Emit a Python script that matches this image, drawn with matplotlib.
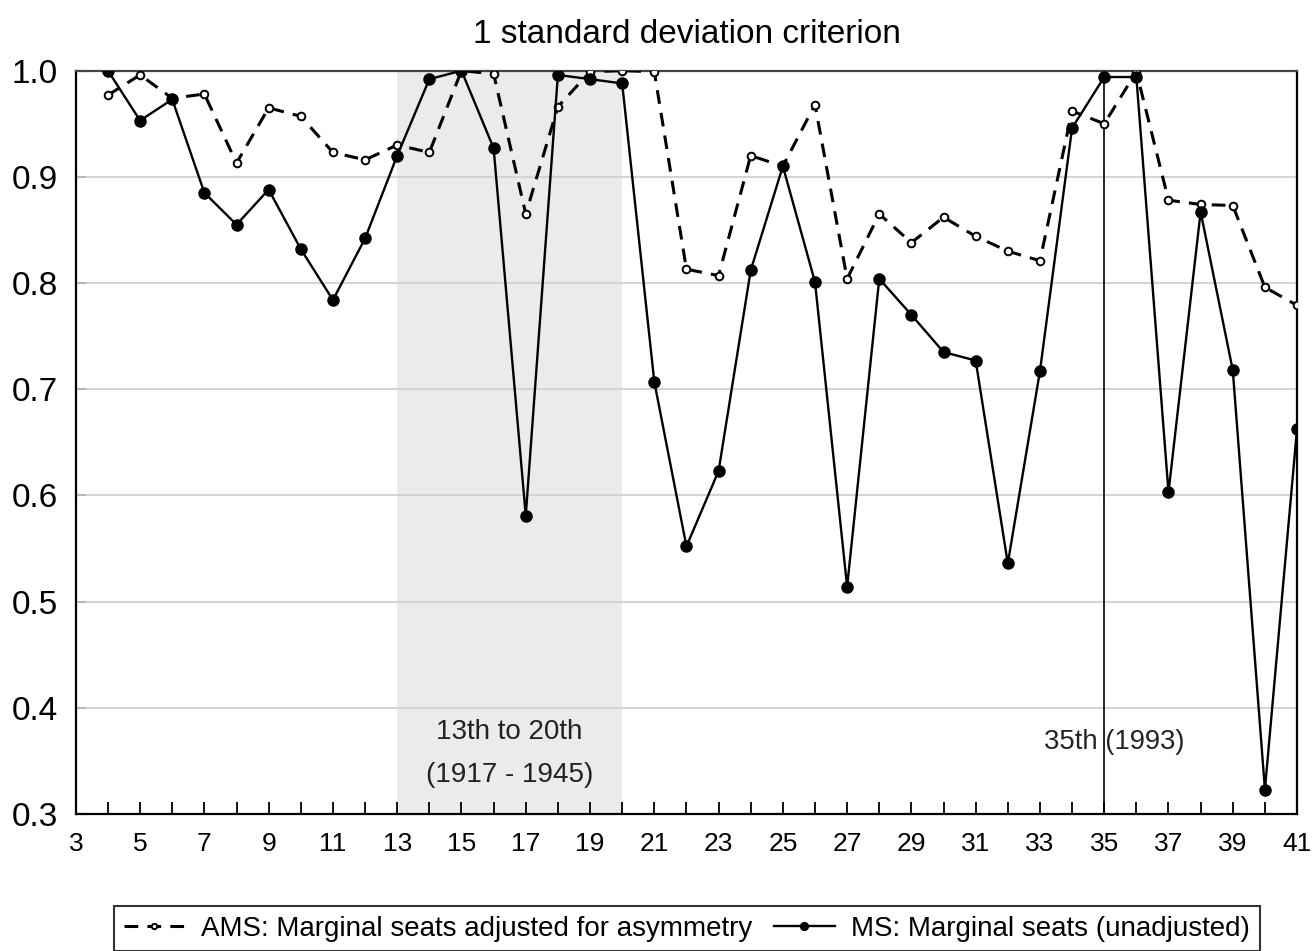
import numpy as np
import matplotlib
matplotlib.use("Agg")
import matplotlib.pyplot as plt

plt.rcParams['font.family'] = ['Liberation Sans', 'DejaVu Sans']

# congress number
congress = list(range(4, 42))

# AMS: marginal seats adjusted for asymmetry
ams = [0.977, 0.996, 0.974, 0.978, 0.913, 0.965, 0.957, 0.923, 0.916, 0.930,
       0.923, 1.000, 0.997, 0.865, 0.966, 0.999, 1.000, 0.999, 0.813, 0.807,
       0.920, 0.910, 0.968, 0.804, 0.865, 0.838, 0.862, 0.844, 0.830, 0.821,
       0.962, 0.950, 0.999, 0.878, 0.874, 0.873, 0.796, 0.779]

# MS: marginal seats (unadjusted)
ms = [1.000, 0.953, 0.973, 0.885, 0.855, 0.888, 0.832, 0.784, 0.842, 0.920,
      0.992, 1.000, 0.927, 0.581, 0.996, 0.992, 0.988, 0.707, 0.552, 0.623,
      0.812, 0.910, 0.801, 0.514, 0.804, 0.770, 0.735, 0.727, 0.536, 0.717,
      0.946, 0.994, 0.994, 0.603, 0.867, 0.718, 0.323, 0.663]

shade_start, shade_end = 13, 20
marker_line = 35
xtick_labels = [str(v) for v in range(3, 42, 2)]

fig = plt.figure(figsize=(13.12, 9.51), dpi=100)
ax = fig.add_axes([0.0578, 0.1441, 0.9308, 0.7816])

ax.axvspan(shade_start, shade_end, color='#ebebeb', zorder=0, lw=0)
for yv in [0.4, 0.5, 0.6, 0.7, 0.8, 0.9]:
    ax.axhline(yv, color='#d4d4d4', lw=1.5, zorder=1)
ax.axvline(marker_line, color='black', lw=1.2, zorder=2)

ax.plot(congress, ams, color='black', lw=2.2, dashes=(4.5, 3),
        marker='o', markersize=5.5, markerfacecolor='white',
        markeredgecolor='black', markeredgewidth=1.4, zorder=3,
        label='AMS: Marginal seats adjusted for asymmetry')
ax.plot(congress, ms, color='black', lw=1.7,
        marker='o', markersize=8, markerfacecolor='black',
        markeredgecolor='black', zorder=4,
        label='MS: Marginal seats (unadjusted)')

ax.text(16.5, 0.377, '13th to 20th', ha='center', va='center',
        fontsize=20, color='#222222')
ax.text(16.5, 0.337, '(1917 - 1945)', ha='center', va='center',
        fontsize=20, color='#222222')
ax.text(35.3, 0.368, '35th (1993)', ha='center', va='center',
        fontsize=19.8, color='#222222')

ax.set_xlim(3, 41)
ax.set_ylim(0.3, 1.0)
ax.set_xticks(range(3, 42, 2))
ax.set_xticklabels(xtick_labels)
ax.set_xticks(range(4, 41, 2), minor=True)
ax.set_yticks([0.3, 0.4, 0.5, 0.6, 0.7, 0.8, 0.9, 1.0])
ax.set_yticklabels(['0.3', '0.4', '0.5', '0.6', '0.7', '0.8', '0.9', '1.0'])
ax.tick_params(axis='x', which='both', direction='in', length=9, width=1.3,
               color='black', labelsize=19, pad=13)
ax.tick_params(axis='y', direction='in', length=7, width=1.5,
               color='#b8b8b8', labelsize=24, pad=13)

for side in ['left', 'bottom', 'right', 'top']:
    ax.spines[side].set_linewidth(1.6)
    ax.spines[side].set_color('black')
ax.spines['top'].set_color('#444444')

ax.set_title('1 standard deviation criterion', fontsize=24, pad=20)

leg = fig.legend(loc='upper left', bbox_to_anchor=(114 / 1312, 1 - 906 / 951),
                 ncol=2, fontsize=20, frameon=True, fancybox=False,
                 edgecolor='black', handlelength=2.2, handletextpad=0.6,
                 columnspacing=0.75, borderpad=0.35, borderaxespad=0,
                 markerscale=0.7)
leg.get_frame().set_linewidth(1.5)

fig.savefig('out.png', dpi=100)
